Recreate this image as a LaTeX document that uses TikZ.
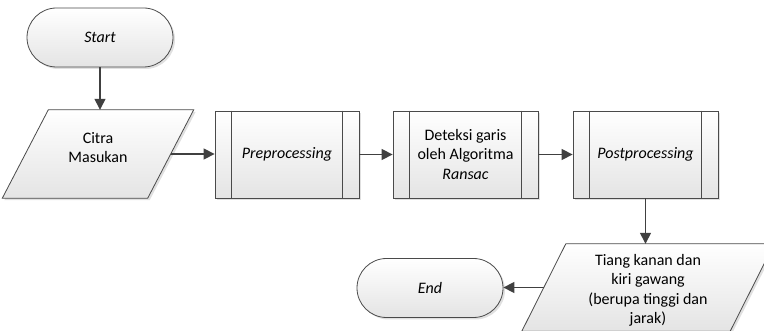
\documentclass[tikz,border=0pt]{standalone}
\usepackage{fontspec}
\setmainfont{Carlito}
\usetikzlibrary{shadows,arrows.meta,backgrounds}

\definecolor{edge}{HTML}{4A4A4A}
\definecolor{arrowc}{HTML}{404040}
\definecolor{fillbot}{HTML}{E4E4E4}

\tikzset{
  look/.style={draw=edge, line width=0.8pt, top color=white, bottom color=fillbot,
    general shadow={fill=black!12, shadow xshift=2pt, shadow yshift=-2pt}},
  txt/.style={align=center, font=\fontsize{16}{19.5}\selectfont, inner sep=0pt},
  terminal/.style={look, txt, rectangle, rounded corners=29.5pt,
    minimum width=146pt, minimum height=59pt},
  % invisible frame of a data box: its width is taken at mid height
  iobox/.style={txt, rectangle, minimum height=88pt},
  process/.style={look, txt, rectangle, minimum width=145pt, minimum height=87pt},
  flow/.style={draw=arrowc, line width=1.4pt,
    -{Triangle[length=11pt,width=11pt]}},
}

% slanted outline around a data box, offset = half of the slant
\newcommand\slantbox[2]{%
  \begin{pgfonlayer}{background}
    \path[look] ([xshift=#2]#1.north west) -- ([xshift=#2]#1.north east)
      -- ([xshift=-#2]#1.south east) -- ([xshift=-#2]#1.south west) -- cycle;
  \end{pgfonlayer}}

% centred lines moved up (positive) or down (negative) inside their box
\newcommand\liftlines[2]{%
  \raisebox{#1}[\height][\depth]{\begin{tabular}{@{}c@{}}#2\end{tabular}}}

\begin{document}
\begin{tikzpicture}[x=1pt,y=-1pt]
  \useasboundingbox (0,0) rectangle (764,331);

  % terminals
  \node[terminal] (start) at (100,37.5) {\textit{Start}};
  \node[terminal] (end)   at (430,288)  {\textit{End}};

  % input / output
  \node[iobox, minimum width=145pt] (citra) at (98,154)
    {\liftlines{5pt}{Citra\\Masukan}};
  \slantbox{citra}{23pt}
  \node[iobox, minimum width=208pt, minimum height=87pt] (out) at (648,287.5)
    {\liftlines{-3pt}{Tiang kanan dan\\kiri gawang\\(berupa tinggi dan\\jarak)}};
  \slantbox{out}{22pt}

  % predefined processes
  \node[process, minimum width=144pt] (pre)  at (287,154.5) {\textit{Preprocessing}};
  \node[process] (det) at (465.5,154.5)
    {Deteksi garis\\oleh Algoritma\\\textit{Ransac}};
  \node[process] (post) at (645.5,154.5) {\textit{Postprocessing}};

  \foreach \n in {pre,det,post}{
    \draw[edge, line width=0.8pt] ([xshift=17pt]\n.north west) -- ([xshift=17pt]\n.south west);
    \draw[edge, line width=0.8pt] ([xshift=-17pt]\n.north east) -- ([xshift=-17pt]\n.south east);
  }

  % connectors
  \draw[flow] (start.south) -- (start.south |- citra.north);
  \draw[flow] (citra.east) -- (pre.west |- citra.east);
  \draw[flow] (pre) -- (det);
  \draw[flow] (det) -- (post);
  \draw[flow] (post.south) -- (post.south |- out.north);
  \draw[flow] (out.west) -- (end.east |- out.west);
\end{tikzpicture}
\end{document}
